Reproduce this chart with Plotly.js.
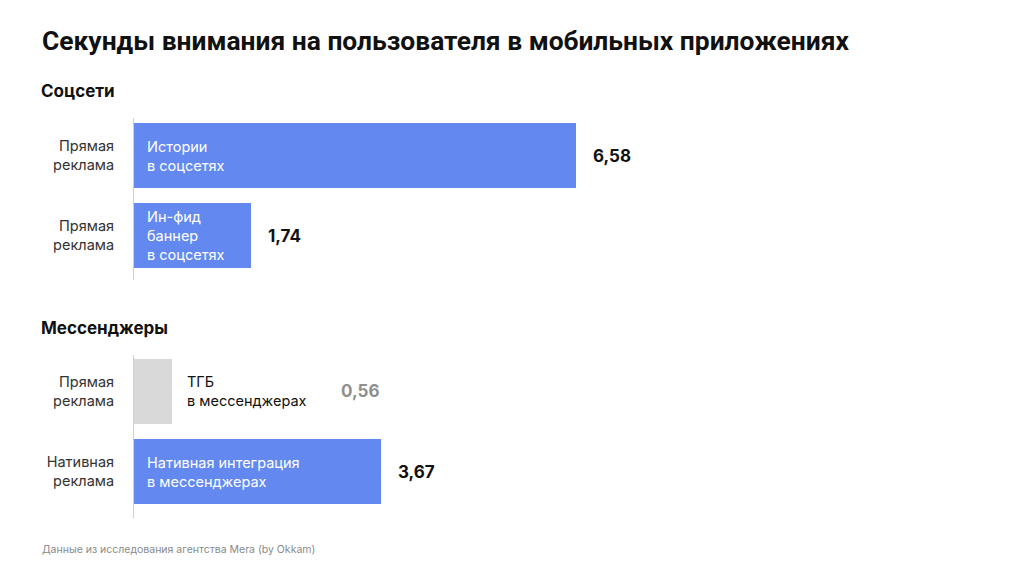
<!DOCTYPE html>
<html><head><meta charset="utf-8">
<script src="https://cdn.plot.ly/plotly-3.0.1.min.js"></script>
<style>html,body{margin:0;padding:0;background:#fff}#chart{width:1024px;height:576px}</style>
</head><body><div id="chart"></div>
<script>
// Group 1: Соцсети
const social_types = ["Прямая<br>реклама", "Прямая<br>реклама"];
const social_labels = ["Истории<br>в соцсетях", "Ин-фид<br>баннер<br>в соцсетях"];
const social_values = [6.58, 1.74];
// Group 2: Мессенджеры
const msg_types = ["Прямая<br>реклама", "Нативная<br>реклама"];
const msg_labels = ["ТГБ<br>в мессенджерах", "Нативная интеграция<br>в мессенджерах"];
const msg_values = [0.56, 3.67];
const msg_highlight = [false, true];

const title = "Секунды внимания на пользователя в мобильных приложениях";
const group_titles = ["Соцсети", "Мессенджеры"];
const source = "Данные из исследования агентства Mera (by Okkam)";

const BLUE = "#6389F0", GREY = "#D9D9D9";
const FONT = "Inter, 'Noto Sans', sans-serif";
const TFONT = "Roboto, Inter, sans-serif";
const idx = a => a.map((_, i) => i);

const traces = [
  {type: "bar", orientation: "h", x: social_values, y: idx(social_values),
   xaxis: "x", yaxis: "y", width: 0.8125, marker: {color: BLUE, line: {width: 0}},
   hoverinfo: "skip"},
  {type: "bar", orientation: "h", x: msg_values, y: idx(msg_values),
   xaxis: "x2", yaxis: "y2", width: 0.8125,
   marker: {color: msg_highlight.map(h => h ? BLUE : GREY), line: {width: 0}},
   hoverinfo: "skip"}
];

const fmt = v => v.toFixed(2).replace(".", ",");
const px = p => (p - 134) / 672;
const ann = [];
ann.push({xref: "paper", yref: "paper", x: px(40), y: 1 - 41/576, xanchor: "left", yanchor: "middle",
  text: "<b>" + title + "</b>", showarrow: false, font: {family: TFONT, size: 26.4, color: "#111"}});
ann.push({xref: "paper", yref: "paper", x: px(39), y: 1 - 91/576, xanchor: "left", yanchor: "middle",
  text: "<b>" + group_titles[0] + "</b>", showarrow: false, font: {family: FONT, size: 17, color: "#111"}});
ann.push({xref: "paper", yref: "paper", x: px(39), y: 1 - 328/576, xanchor: "left", yanchor: "middle",
  text: "<b>" + group_titles[1] + "</b>", showarrow: false, font: {family: FONT, size: 17, color: "#111"}});
ann.push({xref: "paper", yref: "paper", x: px(40), y: 1 - 549/576, xanchor: "left", yanchor: "middle",
  text: source, showarrow: false, font: {family: FONT, size: 10.5, color: "#8a8a8a"}});

social_values.forEach((v, i) => {
  ann.push({xref: "x", yref: "y", x: 0, y: i, xanchor: "left", yanchor: "middle", xshift: 11, align: "left",
    text: social_labels[i], showarrow: false, font: {family: FONT, size: 14.5, color: "#fff"}});
  ann.push({xref: "x", yref: "y", x: v, y: i, xanchor: "left", yanchor: "middle", xshift: 15,
    text: "<b>" + fmt(v) + "</b>", showarrow: false, font: {family: FONT, size: 17, color: "#111"}});
});
msg_values.forEach((v, i) => {
  const hl = msg_highlight[i];
  ann.push({xref: "x2", yref: "y2", x: hl ? 0 : v, y: i, xanchor: "left", yanchor: "middle", xshift: hl ? 11 : 13, align: "left",
    text: msg_labels[i], showarrow: false, font: {family: FONT, size: 14.5, color: hl ? "#fff" : "#111"}});
  ann.push({xref: "x2", yref: "y2", x: v, y: i, xanchor: "left", yanchor: "middle", xshift: hl ? 15 : 167,
    text: "<b>" + fmt(v) + "</b>", showarrow: false, font: {family: FONT, size: 17, color: hl ? "#111" : "#8f8f8f"}});
});

const xa = {range: [0, 10], showgrid: false, zeroline: false, showticklabels: false, showline: false, fixedrange: true};
const ya = (ticks, text) => ({tickmode: "array", tickvals: ticks, ticktext: text, showgrid: false, zeroline: false,
  showline: true, linecolor: "#cfcfcf", linewidth: 1, ticks: "outside", ticklen: 16, tickcolor: "rgba(0,0,0,0)",
  tickfont: {family: FONT, size: 14.5, color: "#333"}, fixedrange: true});

const layout = {
  width: 1024, height: 576, margin: {l: 134, r: 218, t: 0, b: 0},
  paper_bgcolor: "#fff", plot_bgcolor: "#fff", showlegend: false, bargap: 0,
  xaxis: Object.assign({}, xa, {anchor: "y"}),
  xaxis2: Object.assign({}, xa, {anchor: "y2"}),
  yaxis: Object.assign(ya(idx(social_values), social_types), {domain: [1 - 280/576, 1 - 118/576], range: [1.556, -0.469], anchor: "x"}),
  yaxis2: Object.assign(ya(idx(msg_values), msg_types), {domain: [1 - 518/576, 1 - 355/576], range: [1.581, -0.456], anchor: "x2"}),
  annotations: ann
};
Plotly.newPlot("chart", traces, layout, {displayModeBar: false, staticPlot: true});
</script></body></html>
